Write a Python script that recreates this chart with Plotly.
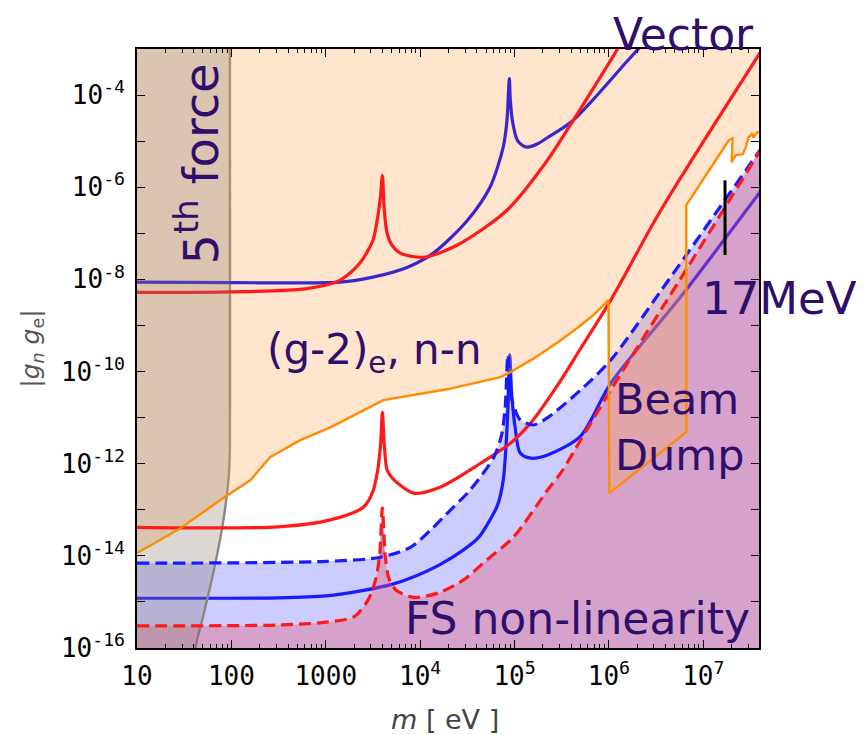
import numpy as np
import plotly.graph_objects as go

# ---- data (log10 m [eV], log10 |g_n g_e|) ----
vec_blue_logm = [1.0, 2.0, 3.15, 3.50, 3.86, 4.14, 4.50, 4.74, 4.88, 4.92, 4.935, 4.945, 4.955, 4.977, 5.03, 5.09, 5.14, 5.25, 5.35, 5.62, 6.20, 6.40]
vec_blue_logg = [-8.06, -8.07, -8.06, -7.95, -7.74, -7.43, -6.72, -6.00, -5.13, -4.55, -3.96, -3.64, -4.10, -4.55, -4.98, -5.10, -5.13, -5.05, -4.92, -4.55, -3.25, -2.80]

vec_red_logm = [1.0, 2.0, 2.8, 3.15, 3.36, 3.50, 3.55, 3.58, 3.60, 3.62, 3.65, 3.70, 3.79, 4.03, 4.39, 4.92, 5.35, 5.67, 6.02, 6.15]
vec_red_logg = [-8.28, -8.27, -8.20, -8.02, -7.65, -7.15, -6.65, -6.20, -5.74, -6.50, -7.00, -7.25, -7.43, -7.52, -7.26, -6.50, -5.41, -4.39, -3.24, -2.80]

red_lo_logm = [1.0, 2.5, 3.05, 3.40, 3.50, 3.55, 3.58, 3.60, 3.62, 3.65, 3.70, 3.76, 3.93, 4.21, 4.64, 4.96, 5.17, 5.49, 5.70, 6.02, 6.55, 7.65]
red_lo_logg = [-13.38, -13.37, -13.22, -12.94, -12.60, -12.14, -11.60, -10.88, -11.60, -12.14, -12.30, -12.42, -12.64, -12.51, -11.99, -11.55, -11.12, -10.19, -9.50, -8.45, -6.50, -2.93]

blue_lo_logm = [1.0, 2.5, 3.0, 3.4, 3.7, 3.9, 4.2, 4.46, 4.62, 4.74, 4.82, 4.88, 4.91, 4.93, 4.95, 4.97, 5.01, 5.06, 5.17, 5.35, 5.70, 6.02, 6.79, 7.65]
blue_lo_logg = [-14.92, -14.91, -14.87, -14.75, -14.62, -14.48, -14.20, -13.87, -13.60, -13.22, -12.90, -12.36, -11.60, -10.80, -9.64, -10.50, -11.27, -11.77, -11.88, -11.81, -11.40, -10.25, -8.30, -5.97]

blue_dash_logm = [1.0, 3.0, 3.58, 3.90, 4.11, 4.30, 4.53, 4.78, 4.86, 4.90, 4.93, 4.96, 5.00, 5.06, 5.20, 5.35, 5.70, 6.02, 6.55, 7.65]
blue_dash_logg = [-14.16, -14.12, -14.03, -13.81, -13.44, -13.05, -12.57, -11.86, -11.40, -10.80, -9.64, -10.50, -10.80, -11.05, -11.16, -11.00, -10.40, -9.75, -8.25, -5.05]

red_dash_logm = [1.0, 2.5, 3.0, 3.3, 3.45, 3.53, 3.57, 3.60, 3.63, 3.67, 3.75, 3.93, 4.2, 4.46, 4.7, 4.99, 5.35, 5.49, 5.70, 6.02, 6.83, 7.65]
red_dash_logg = [-15.52, -15.50, -15.44, -15.32, -14.95, -14.50, -14.00, -12.96, -14.00, -14.50, -14.75, -14.90, -14.80, -14.52, -14.10, -13.59, -12.57, -12.20, -11.49, -10.40, -7.75, -5.05]

orange_logm = [1.0, 1.46, 1.91, 2.20, 2.41, 2.73, 3.05, 3.40, 3.61, 4.30, 4.85, 4.96, 5.20, 5.49, 5.70, 5.85, 5.995, 6.005, 6.82, 6.82, 7.27, 7.31, 7.30, 7.34, 7.42, 7.45, 7.48, 7.52, 7.53, 7.57, 7.65]
orange_logg = [-13.94, -13.40, -12.75, -12.36, -11.86, -11.49, -11.21, -10.84, -10.62, -10.38, -10.12, -10.01, -9.72, -9.32, -9.00, -8.75, -8.45, -12.64, -11.31, -6.39, -4.98, -4.94, -5.46, -5.31, -5.28, -5.13, -4.92, -4.83, -4.92, -4.81, -4.81]

gray_logm = [1.985, 1.985, 1.975, 1.954, 1.91, 1.859, 1.80, 1.742, 1.69, 1.636, 1.60]
gray_logg = [-2.9, -11.6, -12.2, -12.64, -13.3, -13.87, -14.45, -14.96, -15.4, -15.83, -16.2]

x17_logm = [7.23, 7.23]
x17_logg = [-5.85, -7.47]

x_tick_vals = [10, 100, 1000, 1e4, 1e5, 1e6, 1e7]
x_tick_text = ["10", "100", "1000", "10<sup>4</sup>", "10<sup>5</sup>", "10<sup>6</sup>", "10<sup>7</sup>"]
y_tick_exps = list(range(-16, -3))
y_tick_text = [("10<sup>%d</sup>" % e) if e % 2 == 0 else "" for e in y_tick_exps]

X_RANGE = [1.0, 7.59]
Y_RANGE = [-16.0, -3.0]
TOP, BOT, LEFT, RIGHT = -2.9, -16.5, 0.9, 7.65


def p(v):
    return np.power(10.0, np.asarray(v, dtype=float))


RED = "#ff1a1a"
BLUE = "#1a1aff"
VBLUE = "#3a26cc"
ORANGE = "#ff8c00"
LW = 3.2
TXT = "#2f0f6b"
SM = 0.8

fig = go.Figure()


def line(xl, yl, color, width=LW, dash=None, shape="spline"):
    ld = dict(color=color, width=width, shape=shape)
    if shape == "spline":
        ld["smoothing"] = SM
    if dash:
        ld["dash"] = dash
    fig.add_trace(go.Scatter(x=p(xl), y=p(yl), mode="lines", line=ld, hoverinfo="skip"))


def band(base_x, base_y, base_shape, edge_x, edge_y, edge_shape, fillcolor):
    b = dict(width=0, shape=base_shape)
    e = dict(width=0, shape=edge_shape)
    if base_shape == "spline":
        b["smoothing"] = SM
    if edge_shape == "spline":
        e["smoothing"] = SM
    fig.add_trace(go.Scatter(x=p(base_x), y=p(base_y), mode="lines", line=b, hoverinfo="skip"))
    fig.add_trace(go.Scatter(x=p(edge_x), y=p(edge_y), mode="lines", line=e, fill="tonexty",
                             fillcolor=fillcolor, hoverinfo="skip"))


# blue band between red dashed and blue dashed
band(red_dash_logm, red_dash_logg, "spline", blue_dash_logm, blue_dash_logg, "spline", "rgba(0,0,255,0.2)")

# lines that sit under the translucent regions
line(blue_lo_logm, blue_lo_logg, BLUE)
line(gray_logm, gray_logg, "#8a8a8a", width=2.4)

# FS non-linearity (below red dashed)
band([1.0, RIGHT], [BOT, BOT], "linear", red_dash_logm, red_dash_logg, "spline", "rgba(170,70,150,0.5)")
# (g-2)_e, n-n (above orange)
band([1.0, RIGHT], [TOP, TOP], "linear", orange_logm, orange_logg, "linear", "rgba(255,168,88,0.3)")

# vector bounds (above peach, below 5th force shade)
line(vec_blue_logm, vec_blue_logg, VBLUE)
line(vec_red_logm, vec_red_logg, RED)

# 5th force (left of gray line)
band([LEFT, LEFT], [TOP, -16.2], "linear", gray_logm, gray_logg, "spline", "rgba(140,124,108,0.3)")

# top lines
line(red_lo_logm, red_lo_logg, RED)
line(blue_dash_logm, blue_dash_logg, BLUE, dash="12px,6px")
line(red_dash_logm, red_dash_logg, RED, dash="12px,6px")
line(orange_logm, orange_logg, ORANGE, width=2.4, shape="linear")
line(x17_logm, x17_logg, "black", width=3, shape="linear")

TF = dict(family="DejaVu Sans", color=TXT)
ann = [
    dict(text="Vector", x=0.9936, y=1.024, xref="paper", yref="paper", xanchor="right", yanchor="middle",
         borderpad=0, font=dict(size=44, **TF)),
    dict(text="17MeV", x=6.97, y=-8.41, xanchor="left", yanchor="middle", font=dict(size=45, **TF)),
    dict(text="Beam<br>Dump", x=6.04, y=-11.21, xanchor="left", yanchor="middle", align="left", font=dict(size=43, **TF)),
    dict(text="FS non-linearity", x=7.52, y=-15.37, xanchor="right", yanchor="middle", font=dict(size=44, **TF)),
    dict(text="(g-2)<sub>e</sub>, n-n", x=2.36, y=-9.58, xanchor="left", yanchor="middle", font=dict(size=42, **TF)),
    dict(text="5<sup>th</sup> force", x=1.65, y=-5.5, xanchor="center", yanchor="middle", textangle=-90, font=dict(size=48, **TF)),
]
for a in ann:
    a.setdefault("xref", "x")
    a.setdefault("yref", "y")
    a["showarrow"] = False

ann.append(dict(text="|<i>g<sub>n</sub></i> <i>g</i><sub>e</sub>|", xref="paper", yref="paper", x=-0.17, y=0.50,
                textangle=-90, showarrow=False, xanchor="center", yanchor="middle",
                font=dict(family="DejaVu Sans", size=25, color="#555555")))
ann.append(dict(text="<i>m</i> [ eV ]", xref="paper", yref="paper", x=0.495, y=-0.12,
                showarrow=False, xanchor="center", yanchor="middle",
                font=dict(family="DejaVu Sans", size=27, color="#444444")))

minor_x = [k * 10.0 ** d for d in range(1, 8) for k in range(2, 10) if np.log10(k * 10.0 ** d) < X_RANGE[1]]

fig.update_layout(
    width=864, height=735,
    margin=dict(l=129, r=113, t=41, b=95),
    paper_bgcolor="white", plot_bgcolor="white",
    showlegend=False,
    annotations=ann,
    font=dict(family="DejaVu Sans Mono", size=26, color="black"),
)
fig.update_xaxes(type="log", range=X_RANGE, tickmode="array", tickvals=x_tick_vals, ticktext=x_tick_text,
                 ticks="inside", ticklen=8, tickwidth=1, tickcolor="black",
                 showline=True, linecolor="black", linewidth=1.5, mirror="allticks",
                 showgrid=False, zeroline=False, ticklabelstandoff=4,
                 minor=dict(tickmode="array", tickvals=minor_x, ticks="inside", ticklen=4, tickcolor="black", showgrid=False),
                 tickfont=dict(family="DejaVu Sans Mono", size=26, color="black"))
fig.update_yaxes(type="log", range=Y_RANGE, tickmode="array", tickvals=[10.0 ** e for e in y_tick_exps], ticktext=y_tick_text,
                 ticks="inside", ticklen=8, tickwidth=1, tickcolor="black",
                 showline=True, linecolor="black", linewidth=1.5, mirror="allticks",
                 showgrid=False, zeroline=False, ticklabelstandoff=5,
                 tickfont=dict(family="DejaVu Sans Mono", size=26, color="black"))

fig.write_html("out.html")
